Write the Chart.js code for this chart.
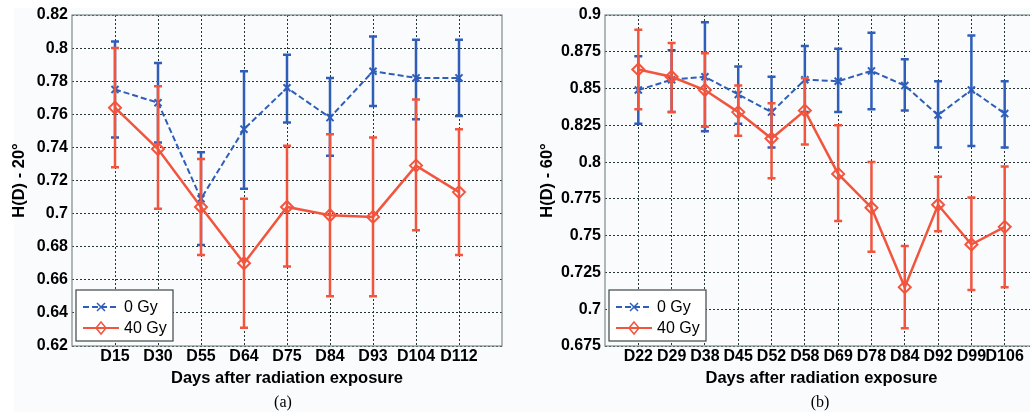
<!DOCTYPE html>
<html>
<head>
<meta charset="utf-8">
<script src="https://cdn.jsdelivr.net/npm/chart.js@4.4.1/dist/chart.umd.min.js"></script>
<style>
  html, body { margin: 0; padding: 0; background: #ffffff; overflow: hidden; width: 1030px; height: 416px; }
  #paper { position: absolute; left: 14px; top: 8px; width: 1016px; height: 404px; background: #fafbfd; }
  .panel { position: absolute; top: 0; }
  .cap { position: absolute; top: 393px; font: 16px "Liberation Serif", serif; color: #000; transform: translateX(-50%); z-index: 2; }
</style>
</head>
<body>
<div id="paper"></div>
<div class="panel" style="left:0; width:510px; height:397px;"><canvas id="chartA"></canvas></div>
<div class="panel" style="left:520px; width:526px; height:397px;"><canvas id="chartB"></canvas></div>
<div class="cap" style="left:283px;">(a)</div>
<div class="cap" style="left:820px;">(b)</div>
<script>
// panel (a) - 20 degrees
const daysA = ['D15', 'D30', 'D55', 'D64', 'D75', 'D84', 'D93', 'D104', 'D112'];
const yTicksA = [0.62, 0.64, 0.66, 0.68, 0.7, 0.72, 0.74, 0.76, 0.78, 0.8, 0.82];
const a0Mean = [0.775, 0.767, 0.709, 0.751, 0.776, 0.758, 0.786, 0.782, 0.782];
const a0Low  = [0.746, 0.743, 0.681, 0.715, 0.755, 0.735, 0.765, 0.757, 0.759];
const a0High = [0.804, 0.791, 0.737, 0.786, 0.796, 0.782, 0.807, 0.805, 0.805];
const a40Mean = [0.764, 0.739, 0.704, 0.670, 0.704, 0.699, 0.698, 0.729, 0.713];
const a40Low  = [0.728, 0.703, 0.675, 0.631, 0.668, 0.650, 0.650, 0.690, 0.675];
const a40High = [0.800, 0.777, 0.733, 0.709, 0.741, 0.748, 0.746, 0.769, 0.751];

// panel (b) - 60 degrees
const daysB = ['D22', 'D29', 'D38', 'D45', 'D52', 'D58', 'D69', 'D78', 'D84', 'D92', 'D99', 'D106'];
const yTicksB = [0.675, 0.7, 0.725, 0.75, 0.775, 0.8, 0.825, 0.85, 0.875, 0.9];
const b0Mean = [0.849, 0.856, 0.858, 0.846, 0.834, 0.856, 0.855, 0.862, 0.852, 0.832, 0.849, 0.833];
const b0Low  = [0.826, 0.834, 0.821, 0.826, 0.810, 0.834, 0.834, 0.836, 0.835, 0.810, 0.811, 0.810];
const b0High = [0.872, 0.876, 0.895, 0.865, 0.858, 0.879, 0.877, 0.888, 0.870, 0.855, 0.886, 0.855];
const b40Mean = [0.863, 0.858, 0.849, 0.834, 0.816, 0.835, 0.792, 0.769, 0.715, 0.771, 0.744, 0.756];
const b40Low  = [0.836, 0.834, 0.824, 0.818, 0.789, 0.812, 0.760, 0.739, 0.687, 0.753, 0.713, 0.715];
const b40High = [0.890, 0.881, 0.874, 0.852, 0.840, 0.857, 0.825, 0.800, 0.743, 0.790, 0.776, 0.797];

const BLUE = '#2f5eb9';
const RED = '#f2553e';
const GRID = '#263434';
const FONT = '"Liberation Sans", Arial, sans-serif';

const errorBars = {
    id: 'errorBars',
    beforeDatasetDraw(chart, args) {
        const ds = chart.data.datasets[args.index];
        if (!ds.errLow) return;
        const ctx = chart.ctx;
        const xs = chart.scales.x, ys = chart.scales.y;
        ctx.save();
        ctx.strokeStyle = ds.borderColor;
        ctx.lineWidth = 2.5;
        ctx.setLineDash([]);
        ds.data.forEach((p, i) => {
            const x = xs.getPixelForValue(p.x);
            const y1 = ys.getPixelForValue(ds.errLow[i]);
            const y2 = ys.getPixelForValue(ds.errHigh[i]);
            ctx.beginPath();
            ctx.moveTo(x, y1); ctx.lineTo(x, y2);
            ctx.moveTo(x - 4, y1); ctx.lineTo(x + 4, y1);
            ctx.moveTo(x - 4, y2); ctx.lineTo(x + 4, y2);
            ctx.stroke();
        });
        ctx.restore();
    }
};

const frameAndLegend = {
    id: 'frameAndLegend',
    afterDraw(chart) {
        const ctx = chart.ctx;
        const a = chart.chartArea;
        ctx.save();
        ctx.strokeStyle = '#7d8a8a';
        ctx.lineWidth = 1.2;
        ctx.setLineDash([]);
        ctx.strokeRect(a.left, a.top, a.right - a.left, a.bottom - a.top);

        // legend box, bottom left inside the axes
        const bx = a.left + 4, by = a.bottom - 56, bw = 97, bh = 51;
        ctx.fillStyle = '#ffffff';
        ctx.fillRect(bx, by, bw, bh);
        ctx.strokeStyle = '#3c4646';
        ctx.lineWidth = 1.2;
        ctx.strokeRect(bx, by, bw, bh);

        const rows = chart.data.datasets;
        rows.forEach((ds, i) => {
            const y = by + 17 + i * 21;
            ctx.strokeStyle = ds.borderColor;
            ctx.lineWidth = 2;
            ctx.setLineDash(ds.borderDash || []);
            ctx.beginPath();
            ctx.moveTo(bx + 7, y); ctx.lineTo(bx + 43, y);
            ctx.stroke();
            ctx.setLineDash([]);
            const mx = bx + 25;
            ctx.lineWidth = 1.5;
            ctx.beginPath();
            if (ds.pointStyle === 'crossRot') {
                ctx.moveTo(mx - 4, y - 4); ctx.lineTo(mx + 4, y + 4);
                ctx.moveTo(mx - 4, y + 4); ctx.lineTo(mx + 4, y - 4);
            } else {
                ctx.moveTo(mx, y - 6); ctx.lineTo(mx + 5, y);
                ctx.lineTo(mx, y + 6); ctx.lineTo(mx - 5, y); ctx.closePath();
            }
            ctx.stroke();
            ctx.fillStyle = '#000';
            ctx.font = '16px ' + FONT;
            ctx.textBaseline = 'middle';
            ctx.fillText(ds.label, bx + 48, y + 1);
        });
        ctx.restore();
    }
};

function makeChart(id, days, yTicks, mean0, low0, high0, mean40, low40, high40, yTitle, yWidth, titlePad) {
    const pts = arr => arr.map((v, i) => ({ x: i + 1, y: v }));
    const xMax = days.length + 1;
    return new Chart(document.getElementById(id).getContext('2d'), {
        type: 'line',
        data: {
            datasets: [
                {
                    label: '0 Gy',
                    data: pts(mean0),
                    errLow: low0,
                    errHigh: high0,
                    borderColor: BLUE,
                    backgroundColor: BLUE,
                    borderWidth: 2,
                    borderDash: [6, 3],
                    pointStyle: 'crossRot',
                    pointRadius: 5,
                    pointBorderWidth: 2,
                    tension: 0,
                    order: 2
                },
                {
                    label: '40 Gy',
                    data: pts(mean40),
                    errLow: low40,
                    errHigh: high40,
                    borderColor: RED,
                    backgroundColor: 'rgba(0,0,0,0)',
                    borderWidth: 2.5,
                    pointStyle: 'rectRot',
                    pointRadius: 6,
                    pointBorderWidth: 2,
                    tension: 0,
                    order: 1
                }
            ]
        },
        options: {
            responsive: true,
            maintainAspectRatio: false,
            animation: false,
            events: [],
            layout: { padding: { top: 15, right: 5, bottom: 2, left: 0 } },
            plugins: {
                legend: { display: false },
                tooltip: { enabled: false }
            },
            scales: {
                x: {
                    type: 'linear',
                    min: 0,
                    max: xMax,
                    afterBuildTicks: scale => {
                        scale.ticks = days.map((d, i) => ({ value: i + 1 }));
                    },
                    ticks: {
                        autoSkip: false,
                        maxRotation: 0,
                        padding: 1,
                        color: '#000',
                        font: { family: FONT, size: 16, weight: 'bold' },
                        callback: v => days[v - 1] || ''
                    },
                    grid: { color: GRID, lineWidth: 1, drawTicks: false },
                    border: { display: false, dash: [2, 2] },
                    title: {
                        display: true,
                        text: 'Days after radiation exposure',
                        color: '#000',
                        font: { family: FONT, size: 16.5, weight: 'bold' },
                        padding: { top: 1, bottom: 7 }
                    }
                },
                y: {
                    min: yTicks[0],
                    max: yTicks[yTicks.length - 1],
                    afterBuildTicks: scale => {
                        scale.ticks = yTicks.map(v => ({ value: v }));
                    },
                    afterFit: scale => { scale.width = yWidth; },
                    ticks: {
                        padding: 4,
                        color: '#000',
                        font: { family: FONT, size: 16, weight: 'bold' },
                        callback: v => String(v)
                    },
                    grid: { color: GRID, lineWidth: 1, drawTicks: false },
                    border: { display: false, dash: [2, 2] },
                    title: {
                        display: true,
                        text: yTitle,
                        color: '#000',
                        font: { family: FONT, size: 16.5, weight: 'bold' },
                        padding: { top: titlePad, bottom: 0 }
                    }
                }
            }
        },
        plugins: [errorBars, frameAndLegend]
    });
}

makeChart('chartA', daysA, yTicksA, a0Mean, a0Low, a0High, a40Mean, a40Low, a40High, 'H(D) - 20°', 72, 10);
makeChart('chartB', daysB, yTicksB, b0Mean, b0Low, b0High, b40Mean, b40Low, b40High, 'H(D) - 60°', 85, 18);
</script>
</body>
</html>
